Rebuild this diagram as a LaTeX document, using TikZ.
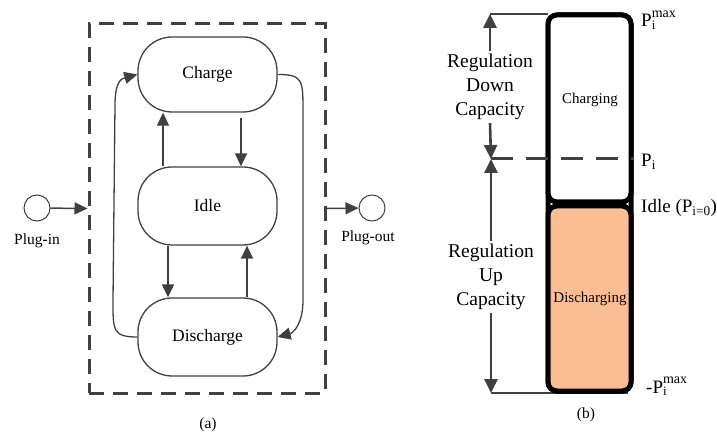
\documentclass[tikz,border=0pt]{standalone}
\usepackage{fontspec}
\setmainfont{Liberation Serif}
\usetikzlibrary{arrows.meta}
\definecolor{ln}{HTML}{404040}
\definecolor{orng}{HTML}{FBBE94}
\newcommand{\pmaxlbl}{P\rlap{\raisebox{-2.5pt}{\fontsize{13}{13}\selectfont i}}\raisebox{9.5pt}{\fontsize{14}{14}\selectfont max}}
\begin{document}
\begin{tikzpicture}[x=1pt,y=-1pt,
  state/.style={draw=ln, line width=1.3pt, rounded corners=34pt, minimum width=139pt, fill=white, font=\fontsize{17.5}{20}\selectfont, inner sep=0pt},
  arr/.style={draw=ln, line width=1.5pt, -{Triangle[length=13pt,width=12pt]}},
  barr/.style={draw=ln, line width=2.6pt, -{Triangle[length=14pt,width=13pt]}},
  plug/.style={circle, draw=ln, line width=1pt, minimum size=26pt, inner sep=0pt},
  lbl/.style={font=\fontsize{15.5}{18}\selectfont, inner sep=0pt},
  reg/.style={align=center, font=\fontsize{19.5}{24}\selectfont, inner sep=3pt},
  plab/.style={anchor=base west, font=\fontsize{19}{22}\selectfont, inner sep=0pt},
  barbox/.style={draw=black, line width=5pt, rounded corners=9pt, minimum width=83pt, inner sep=0pt}
]
\useasboundingbox (0,0) rectangle (717,435);

% ---------- (a) state diagram ----------
\node[draw=ln, line width=3pt, dash pattern=on 15pt off 9pt, minimum width=236pt, minimum height=369pt, inner sep=0pt] (box) at (207,208.5) {};

\node[state, minimum height=75pt] (chg) at (207.5,74.5) {Charge};
\node[state, minimum height=78pt] (idle) at (207.5,206) {Idle};
\node[state, minimum height=78pt] (dis) at (207.5,337) {Discharge};

\draw[arr] ([xshift=-44.5pt]idle.north) -- ([xshift=-44.5pt]chg.south);
\draw[arr, shorten <=5pt] ([xshift=33.5pt]chg.south) -- ([xshift=33.5pt]idle.north);
\draw[arr] ([xshift=-39.5pt]idle.south) -- ([xshift=-39.5pt]dis.north);
\draw[arr] ([xshift=39.5pt]dis.north) -- ([xshift=39.5pt]idle.south);

\draw[arr, line width=1.3pt] (dis.west) .. controls +(-25,0) and +(0,30) .. (113,300) -- (115,105) .. controls +(0,-25) and +(-15,4) .. (chg.west);
\draw[arr, line width=1.3pt] (chg.east) .. controls +(25,0) and +(0,-30) .. (303,110) -- (303,300) .. controls +(0,25) and +(15,-4) .. (dis.east);

\node[plug] (pin) at (37,208) {};
\node[plug] (pout) at (372,208) {};
\node[lbl] (pinl) at (37,241) {Plug-in};
\node[lbl] (poutl) at (368,238) {Plug-out};
\draw[arr] (pin) -- (box.west);
\draw[arr] (box.east) -- (pout);

\node[lbl] (capa) at (208,425) {(a)};

% ---------- (b) regulation capacity bar ----------
\coordinate (top) at (490,14);
\coordinate (mid) at (491,159);
\coordinate (bot) at (491,393);

\draw[ln, line width=2.5pt] (bot) -- (628,393);
\draw[ln, line width=2.5pt] (top) -- (548,14);

\node[barbox, minimum height=376pt] (bar) at (589.5,203) {};
\node[barbox, fill=white, minimum height=187pt] (chgb) at (589.5,108.5) {};
\node[barbox, fill=orng, minimum height=185pt] (disb) at (589.5,298.5) {};
\node[font=\fontsize{15}{18}\selectfont] (chgt) at (590,100) {Charging};
\node[font=\fontsize{15}{18}\selectfont] (dist) at (590,299) {Discharging};

\draw[ln, line width=3pt, dash pattern=on 22pt off 13pt] (mid) -- (634,159);

\node[reg] (rd) at (490,87) {Regulation\\Down\\Capacity};
\node[reg] (ru) at (491,277) {Regulation\\Up\\Capacity};
\draw[barr] (rd.north) -- (top);
\draw[barr] (rd.south) -- (mid);
\draw[barr] (ru.north) -- (mid);
\draw[barr] (ru.south) -- (bot);

\node[plab] (pmax) at (641,27) {\pmaxlbl};
\node[plab] (pi) at (641,167) {P\textsubscript{i}};
\node[plab] (pidle) at (641,213) {Idle (P\textsubscript{i=0})};
\node[plab] (pmin) at (646,393) {-\pmaxlbl};

\node[lbl] (capb) at (586,415) {(b)};
\end{tikzpicture}
\end{document}
